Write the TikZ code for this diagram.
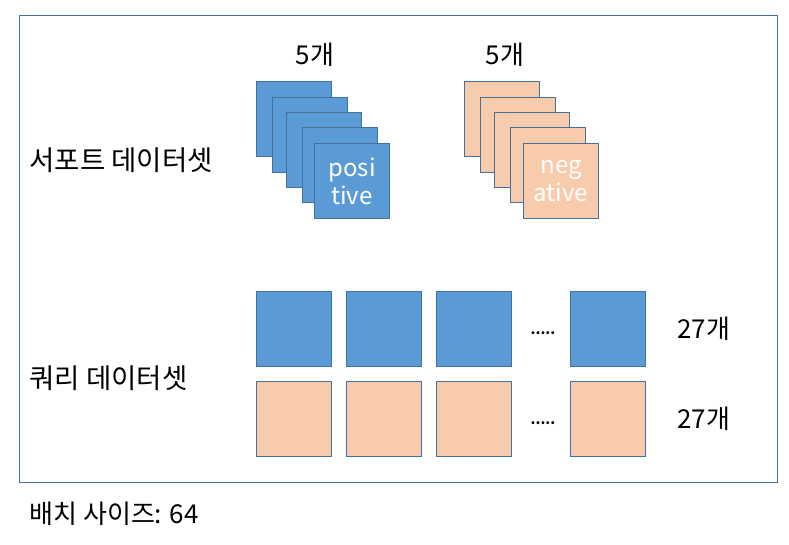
\documentclass[tikz,border=0pt]{standalone}
\usepackage{fontspec}
\setmainfont{Noto Sans CJK KR}
\usetikzlibrary{positioning}
\definecolor{posblue}{HTML}{5B9BD5}
\definecolor{negorange}{HTML}{F8CBAD}
\definecolor{edgeblue}{HTML}{41719C}
\tikzstyle{card} = [minimum width=75pt, minimum height=75pt, draw=edgeblue, line width=1pt, rectangle, inner sep=0pt, anchor=north west, font=\fontsize{24}{28}\selectfont, align=center, text=white]
\tikzstyle{posbox} = [card, fill=posblue]
\tikzstyle{negbox} = [card, fill=negorange]
\tikzstyle{textlabel} = [font=\fontsize{26}{30}\selectfont]
\tikzstyle{setlabel} = [font=\fontsize{27.5}{32}\selectfont, anchor=west]
\tikzstyle{ellipsis} = [font=\bfseries\fontsize{14}{16}\selectfont]

\begin{document}
\begin{tikzpicture}[x=1pt, y=-1pt, node distance=28pt]
    \useasboundingbox (0,0) rectangle (789,544);
    % Frame.
    \draw [edgeblue, line width=0.8pt] (19,15) rectangle (777,482);

    % Support set.
    \foreach\i/\dx/\dy in {1/0/0, 2/16/16, 3/30/31, 4/46/46} {
        \node (pos\i) [posbox] at (256+\dx,81+\dy) {};
        \node (neg\i) [negbox] at (464+\dx,81+\dy) {};
    }
    \node (pos5) [posbox] at (314,143) {posi\\tive};
    \node (neg5) [negbox] at (523,143) {neg\\ative};
    \node (poscount) [textlabel] at (315,55) {5개};
    \node (negcount) [textlabel] at (505,55) {5개};

    % Query set.
    \foreach\i/\x in {1/256, 2/346, 3/436, 4/570} {
        \node (qpos\i) [posbox] at (\x,291) {};
        \node (qneg\i) [negbox] at (\x,381) {};
    }
    \node (qposdots) [ellipsis] at (543,333) {.....};
    \node (qnegdots) [ellipsis] at (543,423) {.....};
    \node (qposcount) [textlabel, right=of qpos4] {27개};
    \node (qnegcount) [textlabel, right=of qneg4] {27개};

    % Labels.
    \node (support) [setlabel] at (26,160) {서포트 데이터셋};
    \node (query) [setlabel] at (26,378) {쿼리 데이터셋};
    \node (batch) [textlabel, anchor=west] at (26,514) {배치 사이즈: 64};
\end{tikzpicture}
\end{document}
